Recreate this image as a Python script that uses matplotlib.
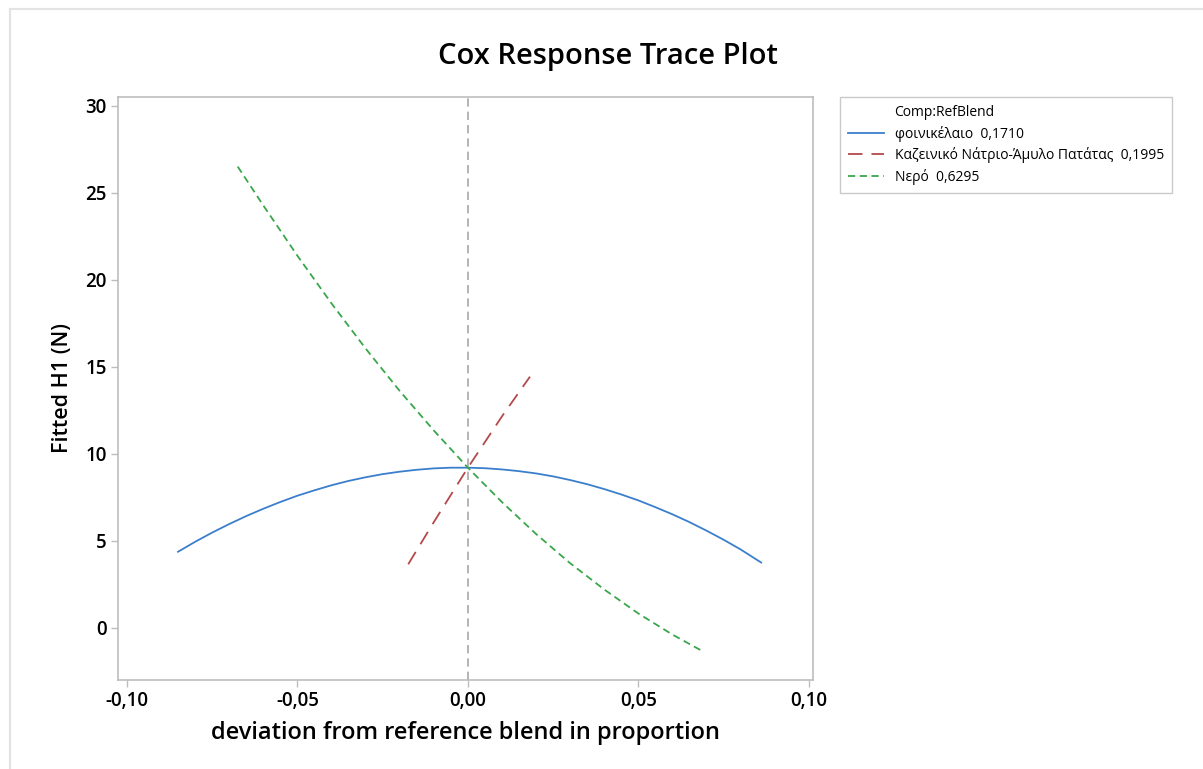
import matplotlib.pyplot as plt
from matplotlib.lines import Line2D
from matplotlib.ticker import FuncFormatter

plt.rcParams["font.family"] = ["Open Sans", "DejaVu Sans"]

# fitted H1 vs deviation
x_palm = [-0.085, -0.08, -0.075, -0.07, -0.065, -0.06, -0.055, -0.05, -0.045,
          -0.04, -0.035, -0.03, -0.025, -0.02, -0.015, -0.01, -0.005, 0.0,
          0.005, 0.01, 0.015, 0.02, 0.025, 0.03, 0.035, 0.04, 0.045, 0.05,
          0.055, 0.06, 0.065, 0.07, 0.075, 0.08, 0.086]
y_palm = [4.37, 4.94, 5.47, 5.96, 6.42, 6.84, 7.23, 7.59, 7.90,
          8.19, 8.44, 8.65, 8.83, 8.97, 9.08, 9.16, 9.20, 9.20,
          9.17, 9.10, 9.00, 8.87, 8.70, 8.49, 8.25, 7.97, 7.66, 7.32,
          6.93, 6.52, 6.07, 5.58, 5.06, 4.50, 3.75]

x_starch = [-0.0175, -0.01, 0.0, 0.01, 0.0182]
y_starch = [3.65, 6.07, 9.20, 12.15, 14.43]

x_water = [-0.0675, -0.06, -0.05, -0.04, -0.03, -0.02, -0.01, 0.0,
           0.01, 0.02, 0.03, 0.04, 0.05, 0.06, 0.0685]
y_water = [26.5, 24.27, 21.38, 18.64, 16.05, 13.61, 11.34, 9.20,
           7.22, 5.39, 3.71, 2.20, 0.82, -0.39, -1.31]

labels = ["φοινικέλαιο  0,1710",
          "Καζεινικό Νάτριο-Άμυλο Πατάτας  0,1995",
          "Νερό  0,6295"]
x_ticks = [-0.10, -0.05, 0.0, 0.05, 0.10]
y_ticks = [0, 5, 10, 15, 20, 25, 30]

fig = plt.figure(figsize=(12.03, 7.69), dpi=100)
ax = fig.add_axes([0.0981, 0.1157, 0.5777, 0.7582])

ax.axvline(0, color="#a8a8a8", lw=1.2, dashes=(5, 3), zorder=1)
l1, = ax.plot(x_palm, y_palm, color="#3b7fcc", lw=1.3)
l2, = ax.plot(x_starch, y_starch, color="#b5484a", lw=1.3, dashes=(8, 5))
l3, = ax.plot(x_water, y_water, color="#3aa64a", lw=1.3, dashes=(4, 2.5))

ax.set_xlim(-0.1026, 0.1012)
ax.set_ylim(-3, 30.5)
ax.set_xticks(x_ticks)
ax.set_yticks(y_ticks)
ax.xaxis.set_major_formatter(FuncFormatter(lambda v, p: f"{v:.2f}".replace(".", ",").replace("-0,00", "0,00")))
for s in ax.spines.values():
    s.set_color("#bdbdbd")
    s.set_linewidth(1.2)
ax.tick_params(direction="out", length=5, width=1, color="#bdbdbd",
               labelsize=13.5, labelcolor="black", pad=3)
for t in ax.get_xticklabels() + ax.get_yticklabels():
    t.set_fontweight("semibold")

ax.set_xlabel("deviation from reference blend in proportion", fontsize=17,
              fontweight="semibold", labelpad=7)
ax.set_ylabel("Fitted H1 (N)", fontsize=15.5, fontweight="semibold", labelpad=9)
fig.text(0.505, 0.927, "Cox Response Trace Plot", ha="center", va="center",
         fontsize=21, fontweight="semibold")

blank = Line2D([], [], color="none")
leg = fig.legend([blank, l1, l2, l3], ["Comp:RefBlend"] + labels,
                 loc="upper left", bbox_to_anchor=(0.698, 0.874),
                 fontsize=10, frameon=True, fancybox=False,
                 handlelength=2.6, handletextpad=0.75, labelspacing=0.4,
                 borderpad=0.6, borderaxespad=0)
leg.get_frame().set_edgecolor("#bdbdbd")
leg.get_frame().set_linewidth(1)

# light outer border
fig.add_artist(Line2D([0.008, 1.0], [0.988, 0.988], color="#e3e3e3", lw=1.5))
fig.add_artist(Line2D([0.008, 0.008], [0.0, 0.988], color="#e3e3e3", lw=1.5))

fig.savefig("out.png", dpi=100)
